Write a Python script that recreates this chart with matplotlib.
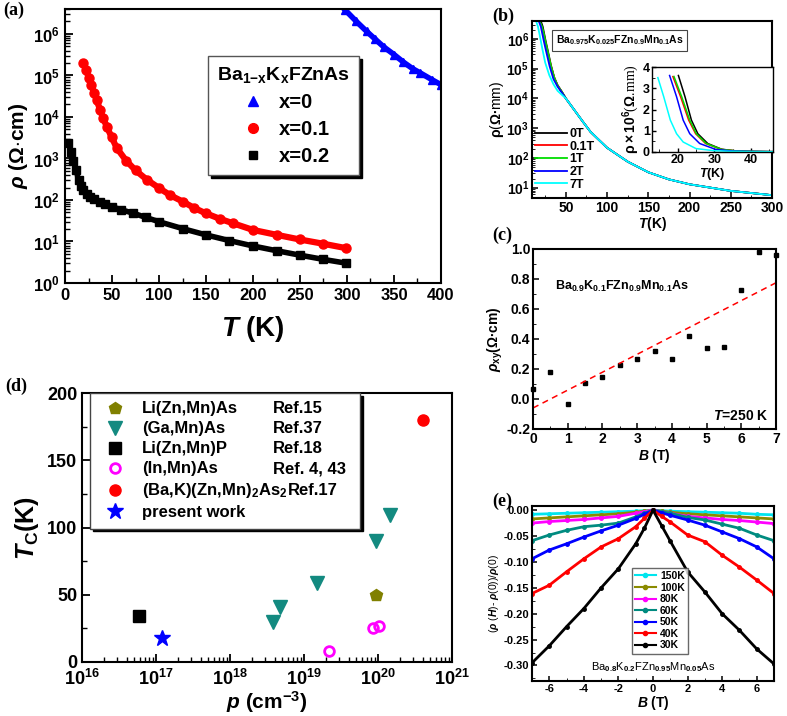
import numpy as np
import matplotlib
matplotlib.use("Agg")
import matplotlib.pyplot as plt
import matplotlib.transforms as mtransforms
from matplotlib.ticker import LogLocator, NullFormatter, MultipleLocator, FormatStrFormatter
from matplotlib.lines import Line2D

plt.rcParams['font.family'] = ['Liberation Sans', 'DejaVu Sans']
plt.rcParams['font.weight'] = 'bold'
plt.rcParams['axes.labelweight'] = 'bold'
plt.rcParams['mathtext.fontset'] = 'custom'
plt.rcParams['mathtext.rm'] = 'Liberation Sans:bold'
plt.rcParams['mathtext.bf'] = 'Liberation Sans:bold'
plt.rcParams['mathtext.it'] = 'Liberation Sans:italic:bold'
plt.rcParams['mathtext.default'] = 'rm'
plt.rcParams['axes.unicode_minus'] = False
plt.rcParams['xtick.direction'] = 'in'
plt.rcParams['ytick.direction'] = 'in'
plt.rcParams['axes.linewidth'] = 1.5

# ---------------- data: panel (a) ----------------
a_T_x0 = [298, 310, 321, 330, 339, 350, 360, 370, 378, 390, 400]
a_rho_x0 = [3.8e6, 2.0e6, 1.15e6, 7.5e5, 4.9e5, 3.2e5, 2.1e5, 1.45e5, 1.15e5, 8.0e4, 6.0e4]
a_T_x01 = [19.5, 22.4, 25.3, 28.1, 31, 33.8, 37.3, 40.5, 44.4, 49.5, 55, 65, 75, 87, 100,
           112, 125.5, 137, 149.6, 165, 178.7, 200, 225, 249.6, 275, 299.3]
a_rho_x01 = [2.0e5, 1.35e5, 8.9e4, 5.8e4, 3.8e4, 2.5e4, 1.5e4, 9.5e3, 5.9e3, 3.3e3, 1.8e3, 8.9e2,
             5.2e2, 3.1e2, 1.95e2, 1.3e2, 9.1e1, 6.5e1, 4.8e1, 3.5e1, 2.75e1, 1.9e1, 1.45e1,
             1.12e1, 8.8, 6.9]
a_T_x02 = [3.7, 6.5, 9, 11.9, 14.4, 17, 19.5, 23, 26.6, 31, 37.2, 43, 49.6, 60, 72.7, 86, 100,
           125, 149.6, 175, 200, 225, 249.6, 275, 299.3]
a_rho_x02 = [2.4e3, 1.45e3, 8.9e2, 5.2e2, 3.0e2, 2.2e2, 1.75e2, 1.42e2, 1.2e2, 1.03e2, 9.0e1,
             7.8e1, 6.9e1, 5.8e1, 4.8e1, 3.8e1, 3.0e1, 2.05e1, 1.45e1, 1.05e1, 7.8, 6.0, 4.7,
             3.7, 3.0]

# ---------------- data: panel (b) ----------------
b_fields = ['0T', '0.1T', '1T', '2T', '7T']
b_colors = ['black', 'red', '#00dd00', 'blue', 'cyan']
b_T_common = [60, 70, 80, 100, 125, 150, 175, 200, 250, 300]
b_rho_common = [4.2e3, 1.75e3, 7.5e2, 2.2e2, 7.5e1, 3.3e1, 1.9e1, 1.3e1, 7.8, 5.6]
b_T_low = {
    '0T':   [20.2, 22.0, 23.75, 25.5, 28.2, 32.0, 36.0, 40.0, 45.0, 50.0],
    '0.1T': [18.7, 20.8, 23.0, 24.9, 27.6, 32.0, 36.0, 40.0, 45.0, 50.0],
    '1T':   [19.0, 21.1, 23.3, 25.1, 27.8, 32.0, 36.0, 40.0, 45.0, 50.0],
    '2T':   [17.8, 19.7, 21.5, 23.3, 26.0, 30.4, 35.0, 40.0, 45.0, 50.0],
    '7T':   [14.6, 16.2, 18.0, 19.7, 21.5, 25.0, 30.0, 35.0, 40.0, 50.0],
}
b_rho_low = {
    '0T':   [3.6e6, 2.6e6, 1.5e6, 8.6e5, 4.0e5, 1.3e5, 5.0e4, 2.8e4, 1.7e4, 1.0e4],
    '0.1T': [3.55e6, 2.6e6, 1.5e6, 8.6e5, 4.0e5, 1.2e5, 5.0e4, 2.7e4, 1.7e4, 1.0e4],
    '1T':   [3.55e6, 2.6e6, 1.5e6, 8.6e5, 4.0e5, 1.2e5, 5.0e4, 2.7e4, 1.7e4, 1.0e4],
    '2T':   [3.6e6, 2.6e6, 1.5e6, 8.6e5, 4.0e5, 1.2e5, 4.5e4, 2.5e4, 1.6e4, 1.0e4],
    '7T':   [3.5e6, 2.6e6, 1.5e6, 8.6e5, 4.7e5, 1.6e5, 6.0e4, 3.0e4, 1.8e4, 1.0e4],
}

# ---------------- data: panel (c) ----------------
c_B = [0, 0.5, 1, 1.5, 2, 2.5, 3, 3.5, 4, 4.5, 5, 5.5, 6, 6.5, 7]
c_rho = [0.065, 0.18, -0.03, 0.11, 0.15, 0.23, 0.27, 0.32, 0.27, 0.42, 0.34, 0.35, 0.73, 0.98, 0.96]
c_fit_B = [0, 7]
c_fit_rho = [-0.06, 0.775]

# ---------------- data: panel (d) ----------------
d_names = ['Li(Zn,Mn)As', '(Ga,Mn)As', 'Li(Zn,Mn)P', '(In,Mn)As',
           r'(Ba,K)(Zn,Mn)$_2$As$_2$', 'present work']
d_refs = ['Ref.15', 'Ref.37', 'Ref.18', 'Ref. 4, 43', 'Ref.17', '']
d_p = [[9.5e19], [3.8e18, 4.8e18, 1.5e19, 9.5e19, 1.45e20], [5.9e16],
       [2.15e19, 8.6e19, 1.02e20], [4.1e20], [1.2e17]]
d_Tc = [[50], [30, 41, 59, 90, 109], [34], [8, 25, 27], [180], [18]]

# ---------------- data: panel (e) ----------------
e_labels = ['150K', '100K', '80K', '60K', '50K', '40K', '30K']
e_colors = ['#00e5ee', '#8b8b00', '#ff00ff', '#008b80', '#0000ff', '#ff0000', '#000000']
e_B = [-7, -6, -5, -4, -3, -2, -1, -0.5, 0, 0.5, 1, 2, 3, 4, 5, 6, 7]
e_vals = {
    '150K': [-0.008, -0.007, -0.006, -0.005, -0.004, -0.003, -0.002, -0.001, 0, -0.001, -0.002, -0.003, -0.004, -0.005, -0.006, -0.008, -0.009],
    '100K': [-0.017, -0.015, -0.013, -0.011, -0.009, -0.007, -0.004, -0.002, 0, -0.002, -0.004, -0.007, -0.009, -0.011, -0.013, -0.015, -0.017],
    '80K':  [-0.025, -0.022, -0.020, -0.018, -0.015, -0.012, -0.006, -0.003, 0, -0.003, -0.006, -0.012, -0.015, -0.018, -0.020, -0.023, -0.026],
    '60K':  [-0.059, -0.048, -0.039, -0.032, -0.029, -0.025, -0.013, -0.006, 0, -0.003, -0.006, -0.014, -0.019, -0.027, -0.035, -0.048, -0.059],
    '50K':  [-0.094, -0.077, -0.065, -0.052, -0.040, -0.029, -0.016, -0.008, 0, -0.005, -0.010, -0.019, -0.029, -0.042, -0.055, -0.071, -0.094],
    '40K':  [-0.161, -0.145, -0.119, -0.094, -0.071, -0.055, -0.032, -0.016, 0, -0.012, -0.023, -0.048, -0.061, -0.087, -0.110, -0.135, -0.161],
    '30K':  [-0.295, -0.262, -0.225, -0.190, -0.150, -0.113, -0.065, -0.035, 0, -0.030, -0.060, -0.119, -0.158, -0.200, -0.232, -0.268, -0.297],
}

W, H = 787, 716
fig = plt.figure(figsize=(W / 100, H / 100), dpi=100)


def ax_px(l, t, r, b):
    return fig.add_axes([l / W, 1 - b / H, (r - l) / W, (b - t) / H])


def panel_label(x, y, s):
    fig.text(x / W, 1 - y / H, s, family=['Liberation Serif', 'DejaVu Serif'], weight='bold',
             fontsize=13, va='top', ha='left')

# ================= panel (a) =================
axa = ax_px(65, 9, 441, 283)
axa.plot(a_T_x0, a_rho_x0, color='blue', lw=4, marker='^', ms=6, ls='-')
axa.plot(a_T_x01, a_rho_x01, color='red', lw=4.5, marker='o', ms=6.5, ls='-')
axa.plot(a_T_x02, a_rho_x02, color='black', lw=4, marker='s', ms=5.5, ls='-')
axa.set_yscale('log')
axa.set_xlim(0, 400)
axa.set_ylim(1, 4e6)
axa.xaxis.set_major_locator(MultipleLocator(50))
axa.xaxis.set_minor_locator(MultipleLocator(25))
axa.yaxis.set_major_locator(LogLocator(base=10, subs=(1.0,), numticks=20))
axa.yaxis.set_minor_locator(LogLocator(base=10, subs=np.arange(2, 10), numticks=30))
axa.yaxis.set_minor_formatter(NullFormatter())
axa.tick_params(labelsize=12, length=6, width=1.3)
axa.tick_params(which='minor', length=3.5, width=1)
axa.set_xlabel(r'$\mathit{T}$ (K)', fontsize=20, labelpad=8)
axa.set_ylabel(r'$\mathit{\rho}$ ($\Omega$$\cdot$cm)', fontsize=15, labelpad=2)
handles_a = [Line2D([], [], color='blue', marker='^', ls='none', ms=7),
             Line2D([], [], color='red', marker='o', ls='none', ms=7),
             Line2D([], [], color='black', marker='s', ls='none', ms=6)]
lega = axa.legend(handles_a, ['x=0', 'x=0.1', 'x=0.2'], loc='upper left',
                  bbox_to_anchor=(0.354, 0.865), fontsize=14.5, frameon=True, fancybox=False,
                  edgecolor='#555555', handletextpad=0.5, borderpad=0.45, labelspacing=0.4,
                  handlelength=1.6,
                  title=r'Ba$_{1\mathrm{-}x}$K$_x$FZnAs', title_fontproperties={'size': 14, 'weight': 'bold'},
                  shadow={'color': 'black', 'alpha': 1.0})
lega.get_frame().set_linewidth(1.0)
panel_label(3, 2, '(a)')

# ================= panel (b) =================
axb = ax_px(532, 21, 772, 198)
for f, col in zip(b_fields, b_colors):
    T = b_T_low[f] + b_T_common
    R = b_rho_low[f] + b_rho_common
    axb.plot(T, R, color=col, lw=1.3, label=f)
axb.set_yscale('log')
axb.set_xlim(9, 300)
axb.set_ylim(4.5, 4e6)
axb.xaxis.set_major_locator(MultipleLocator(50))
axb.xaxis.set_minor_locator(MultipleLocator(25))
axb.yaxis.set_major_locator(LogLocator(base=10, subs=(1.0,), numticks=20))
axb.yaxis.set_minor_locator(LogLocator(base=10, subs=np.arange(2, 10), numticks=30))
axb.yaxis.set_minor_formatter(NullFormatter())
axb.tick_params(labelsize=10, length=4, width=1.1, pad=2)
axb.tick_params(which='minor', length=2.5)
axb.set_xlabel(r'$\mathit{T}$(K)', fontsize=10, labelpad=0)
axb.set_ylabel(r'$\rho$($\Omega$$\bullet$mm)', fontsize=10, labelpad=0,
               fontweight='normal')
axb.legend(loc='lower left', bbox_to_anchor=(-0.02, 0.0), frameon=False, fontsize=9,
           handlelength=2.6, handletextpad=0.2, labelspacing=0.05, borderaxespad=0.2)
axb.text(0.1, 0.93, r'Ba$_{0.975}$K$_{0.025}$FZn$_{0.9}$Mn$_{0.1}$As', transform=axb.transAxes,
         fontsize=7.5, va='top', ha='left',
         bbox=dict(boxstyle='square,pad=0.35', fc='white', ec='#444444', lw=0.8))
panel_label(492, 8, '(b)')

# inset
axi = ax_px(652, 67, 773, 152)
for f, col in zip(b_fields, b_colors):
    T = b_T_low[f] + b_T_common
    R = [v / 1e6 for v in (b_rho_low[f] + b_rho_common)]
    axi.plot(T, R, color=col, lw=1.1)
axi.set_xlim(13, 46)
axi.set_ylim(0, 4)
axi.xaxis.set_major_locator(MultipleLocator(10))
axi.xaxis.set_minor_locator(MultipleLocator(5))
axi.yaxis.set_major_locator(MultipleLocator(1))
axi.yaxis.set_minor_locator(MultipleLocator(0.5))
axi.tick_params(labelsize=9, length=3, width=1, pad=1.5)
axi.tick_params(which='minor', length=2)
for s in axi.spines.values():
    s.set_linewidth(1.0)
axi.set_xlabel(r'$\mathit{T}$(K)', fontsize=9, labelpad=0)
axi.set_ylabel(r'$\rho\times10^6$($\Omega$.mm)', fontsize=10, labelpad=1,
               family=['Liberation Serif', 'DejaVu Serif'], fontweight='normal')

# ================= panel (c) =================
axc = ax_px(533, 249, 776, 429)
axc.plot(c_B, c_rho, ls='none', marker='s', ms=3.5, color='black', clip_on=False)
axc.plot(c_fit_B, c_fit_rho, ls=(0, (4, 3)), color='red', lw=1.1)
axc.set_xlim(0, 7)
axc.set_ylim(-0.2, 1.0)
axc.xaxis.set_major_locator(MultipleLocator(1))
axc.xaxis.set_minor_locator(MultipleLocator(0.5))
axc.yaxis.set_major_locator(MultipleLocator(0.2))
axc.yaxis.set_minor_locator(MultipleLocator(0.1))
axc.yaxis.set_major_formatter(FormatStrFormatter('%.1f'))
axc.tick_params(labelsize=10, length=4, width=1.1, pad=2)
axc.tick_params(which='minor', length=2.5)
axc.set_xlabel(r'$\mathit{B}$ (T)', fontsize=10, labelpad=1)
axc.set_ylabel(r'$\mathit{\rho}_{xy}$($\Omega$$\bullet$cm)', fontsize=10, labelpad=1)
axc.text(0.09, 0.79, r'Ba$_{0.9}$K$_{0.1}$FZn$_{0.9}$Mn$_{0.1}$As', transform=axc.transAxes,
         fontsize=9, va='center', ha='left')
axc.text(0.97, 0.07, r'$\mathit{T}$=250 K', transform=axc.transAxes,
         fontsize=10, va='center', ha='right')
panel_label(492, 227, '(c)')

# ================= panel (d) =================
axd = ax_px(82, 393, 452, 662)
d_styles = [dict(marker='p', color='#808000', ms=9, mfc='#808000'),
            dict(marker='v', color='#138a80', ms=10, mfc='#138a80'),
            dict(marker='s', color='black', ms=8, mfc='black'),
            dict(marker='o', color='#ff00ff', ms=7, mfc='none', mew=2),
            dict(marker='o', color='#ff0000', ms=8, mfc='#ff0000'),
            dict(marker='*', color='#0000ff', ms=12, mfc='#0000ff')]
handles_d = []
for xs, ys, st, nm in zip(d_p, d_Tc, d_styles, d_names):
    h, = axd.plot(xs, ys, ls='none', label=nm, **st)
    handles_d.append(h)
axd.set_xscale('log')
axd.set_xlim(1e16, 1e21)
axd.set_ylim(0, 200)
axd.xaxis.set_major_locator(LogLocator(base=10, subs=(1.0,), numticks=20))
axd.xaxis.set_minor_locator(LogLocator(base=10, subs=np.arange(2, 10), numticks=30))
axd.xaxis.set_minor_formatter(NullFormatter())
axd.yaxis.set_major_locator(MultipleLocator(50))
axd.yaxis.set_minor_locator(MultipleLocator(25))
axd.tick_params(labelsize=13, length=6, width=1.3)
axd.tick_params(axis='x', pad=5)
axd.tick_params(which='minor', length=3.5, width=1)
axd.set_xlabel(r'$\mathit{p}$ (cm$^{-3}$)', fontsize=15, labelpad=0)
axd.set_ylabel(r'$\mathit{T}_{C}$(K)', fontsize=18, labelpad=4)
legd = axd.legend(handles_d, d_names, loc='upper left', bbox_to_anchor=(0.022, 1.0, 0.73, 0.0),
                  mode='expand',
                  fontsize=12, frameon=True, fancybox=False, edgecolor='#444444',
                  borderpad=0.5, labelspacing=0.3, handletextpad=0.6, borderaxespad=0.0,
                  shadow={'color': 'black', 'alpha': 1.0})
legd.get_frame().set_linewidth(1.0)
fig.canvas.draw()
texts = legd.get_texts()
rend = fig.canvas.get_renderer()
for t, r in zip(texts, d_refs):
    if not r:
        continue
    bb = t.get_window_extent(rend)
    ycen = (bb.y0 + bb.y1) / 2
    x_end, y_ax = axd.transAxes.inverted().transform((bb.x1, ycen))
    xpos = max(0.515, x_end + 0.002)
    axd.text(xpos, y_ax, r, transform=axd.transAxes, fontsize=12, va='center', ha='left',
             zorder=10)
# lift the "0" label of the T_C axis slightly so it clears the 10^16 label
tick0 = axd.yaxis.get_major_ticks()[0]
tick0.label1.set_transform(tick0.label1.get_transform() +
                           mtransforms.ScaledTranslation(0, 3 / 72, fig.dpi_scale_trans))
panel_label(5, 378, '(d)')

# ================= panel (e) =================
axe = ax_px(532, 506, 774, 681)
handles_e = []
for lab, col in zip(e_labels, e_colors):
    h, = axe.plot(e_B, e_vals[lab], color=col, lw=2.0, marker='o', ms=2.5, label=lab)
    handles_e.append(h)
axe.set_xlim(-7, 7)
axe.set_ylim(-0.33, 0.008)
axe.xaxis.set_major_locator(MultipleLocator(2))
axe.xaxis.set_minor_locator(MultipleLocator(1))
axe.yaxis.set_major_locator(MultipleLocator(0.05))
axe.yaxis.set_minor_locator(MultipleLocator(0.025))
axe.yaxis.set_major_formatter(FormatStrFormatter('%.2f'))
axe.tick_params(labelsize=8, length=3.5, width=1.1, pad=2)
axe.tick_params(which='minor', length=2)
axe.set_xlabel(r'$\mathit{B}$ (T)', fontsize=10, labelpad=0)
axe.set_ylabel(r'($\mathit{\rho}$ ($\mathit{H}$)- $\mathit{\rho}$(0))/$\mathit{\rho}$(0)', fontsize=7.5, labelpad=2,
               fontweight='normal')
hl = [Line2D([], [], color=c, lw=1.5, marker='o', ms=3) for c in e_colors]
axe.legend(hl, e_labels, loc='upper left', bbox_to_anchor=(0.413, 0.646), fontsize=7.5,
           frameon=True, fancybox=False, edgecolor='#444444', borderpad=0.3,
           labelspacing=0.15, handlelength=2.0, handletextpad=0.4, borderaxespad=0.0)
axe.text(0.5, 0.08, r'Ba$_{0.8}$K$_{0.2}$FZn$_{0.95}$Mn$_{0.05}$As', transform=axe.transAxes,
         fontsize=8, ha='center', va='center', fontweight='normal')
panel_label(492, 493, '(e)')

fig.savefig('out.png', dpi=100)
